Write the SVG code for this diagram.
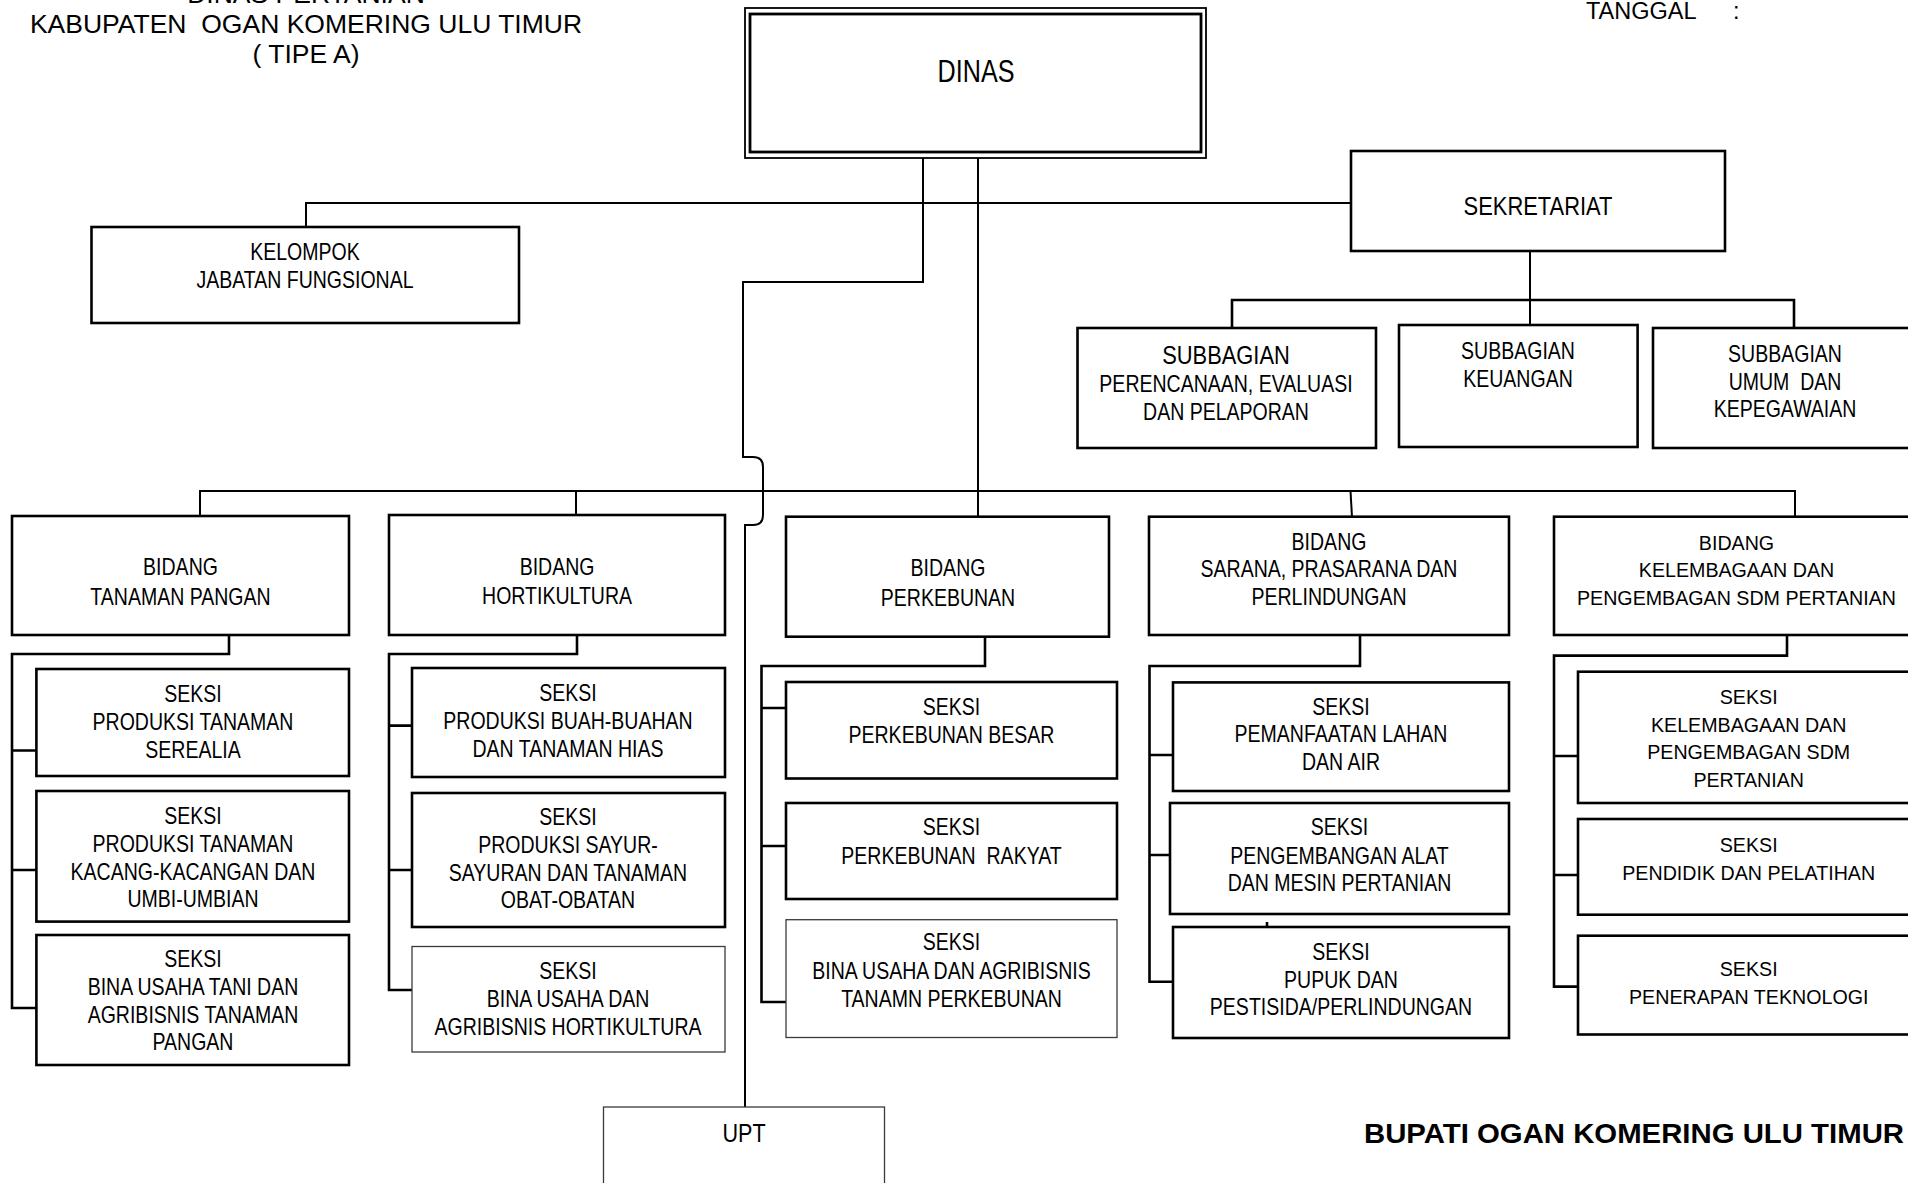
<svg xmlns="http://www.w3.org/2000/svg" width="1908" height="1183" viewBox="0 0 1908 1183">
  <style>
    .box { fill: #fff; stroke: #000; stroke-width: 2.6; }
    .thin { fill: #fff; stroke: #3a3a3a; stroke-width: 1.3; }
    .ln { fill: none; stroke: #000; stroke-width: 2; }
    .bus { fill: none; stroke: #000; stroke-width: 2.6; }
    text { font-family: "Liberation Sans", Arial, sans-serif; fill: #000; }
    .c { text-anchor: middle; }
    /* condensed lettering: scaled horizontally about each label's own centre */
    .n { font-size: 23.8px; transform: scaleX(0.82); transform-box: fill-box; transform-origin: center; }
    .r { font-size: 19.65px; }
    .hd { font-size: 26.5px; }
  </style>

  <!-- heading -->
  <g id="heading">
    <text class="c hd" x="306" y="3">DINAS PERTANIAN</text>
    <text class="c hd" x="306" y="33">KABUPATEN&#160; OGAN KOMERING ULU TIMUR</text>
    <text class="c hd" x="306" y="63">( TIPE A)</text>
  </g>
  <g id="tanggal">
    <text x="1586" y="19" font-size="23.5">TANGGAL</text>
    <text x="1733" y="19" font-size="23.5">:</text>
  </g>

  <!-- connectors -->
  <g id="connectors">
    <path class="ln" d="M306,227 V203 H1351"/>
    <path class="ln" d="M923,158 V282 H743 V457 H753 Q763,457 763,467 V515 Q763,525 753,525 H745 V1107"/>
    <path class="ln" d="M978,158 V517"/>
    <path class="ln" d="M200,516 V491 H1795 V517"/>
    <path class="ln" d="M576,491 V515"/>
    <path class="ln" d="M1350.5,491 L1352,517"/>
    <path class="ln" d="M1530,251 V325"/>
    <path class="bus" d="M1232,328 V300 H1794 V328"/>
    <!-- tanaman pangan -->
    <path class="bus" d="M229,635 V654 H12 V1008 H36 M12,750.5 H36 M12,870 H36"/>
    <!-- hortikultura -->
    <path class="bus" d="M577,635 V654 H389 V990 H412 M389,725.6 H412 M389,870 H412"/>
    <!-- perkebunan -->
    <path class="bus" d="M985,637 V666 H761.5 V1002 H786 M761.5,708 H786 M761.5,846 H786"/>
    <!-- sarana, prasarana dan perlindungan -->
    <path class="bus" d="M1360,635 V666 H1149.5 V981.7 H1173 M1149.5,755 H1173 M1149.5,855 H1170"/>
    <path class="bus" d="M1174,778 H1199 M1267,922 V927"/>
    <!-- kelembagaan -->
    <path class="bus" d="M1787,635 V655.6 H1554 V986.6 H1578 M1554,756 H1578 M1554,875 H1578"/>
  </g>

  <g id="dinas">
    <rect x="745" y="8" width="461" height="150" fill="#fff" stroke="#000" stroke-width="1.8"/>
    <rect x="750" y="14" width="451" height="138" fill="none" stroke="#000" stroke-width="2.8"/>
    <text class="c n" x="976" y="82" style="font-size:30.7px">DINAS</text>
  </g>

  <g id="kelompok-jabatan-fungsional">
    <rect class="box" x="91.5" y="227" width="427.5" height="96"/>
    <text class="c n" x="305" y="260">KELOMPOK<tspan x="305" y="288">JABATAN FUNGSIONAL</tspan></text>
  </g>

  <g id="sekretariat">
    <rect class="box" x="1351" y="151" width="374" height="100"/>
    <text class="c n" x="1538" y="215" style="font-size:26.7px">SEKRETARIAT</text>
  </g>

  <g id="subbagian-perencanaan">
    <rect class="box" x="1077.5" y="328" width="298.5" height="120"/>
    <text class="c n" x="1226" y="364" style="font-size:26.7px">SUBBAGIAN</text>
    <text class="c n" x="1226" y="392">PERENCANAAN, EVALUASI<tspan x="1226" y="420">DAN PELAPORAN</tspan></text>
  </g>

  <g id="subbagian-keuangan">
    <rect class="box" x="1399" y="325" width="238.6" height="122"/>
    <text class="c n" x="1518" y="359">SUBBAGIAN<tspan x="1518" y="387">KEUANGAN</tspan></text>
  </g>

  <g id="subbagian-umum">
    <rect class="box" x="1653" y="328" width="275" height="120"/>
    <text class="c n" x="1785" y="362">SUBBAGIAN<tspan x="1785" y="390">UMUM&#160; DAN</tspan><tspan x="1785" y="417">KEPEGAWAIAN</tspan></text>
  </g>

  <!-- bidang -->
  <g id="bidang-tanaman-pangan">
    <rect class="box" x="12" y="516" width="337" height="119"/>
    <text class="c n" x="180.5" y="575">BIDANG<tspan x="180.5" y="605">TANAMAN PANGAN</tspan></text>
  </g>
  <g id="bidang-hortikultura">
    <rect class="box" x="389" y="515" width="336" height="120"/>
    <text class="c n" x="557" y="575">BIDANG<tspan x="557" y="604">HORTIKULTURA</tspan></text>
  </g>
  <g id="bidang-perkebunan">
    <rect class="box" x="786" y="516.7" width="323" height="120"/>
    <text class="c n" x="948" y="576">BIDANG<tspan x="948" y="606">PERKEBUNAN</tspan></text>
  </g>
  <g id="bidang-sarana">
    <rect class="box" x="1149" y="516.7" width="360" height="118.3"/>
    <text class="c n" x="1329" y="550">BIDANG<tspan x="1329" y="577">SARANA, PRASARANA DAN</tspan><tspan x="1329" y="605">PERLINDUNGAN</tspan></text>
  </g>
  <g id="bidang-kelembagaan">
    <rect class="box" x="1554" y="516.7" width="370" height="118.3"/>
    <text class="c r" x="1736.5" y="550">BIDANG<tspan x="1736.5" y="577">KELEMBAGAAN DAN</tspan><tspan x="1736.5" y="605">PENGEMBAGAN SDM PERTANIAN</tspan></text>
  </g>

  <!-- seksi: tanaman pangan -->
  <g id="seksi-serealia">
    <rect class="box" x="36.4" y="669" width="312.6" height="107"/>
    <text class="c n" x="193" y="702">SEKSI<tspan x="193" y="730">PRODUKSI TANAMAN</tspan><tspan x="193" y="758">SEREALIA</tspan></text>
  </g>
  <g id="seksi-kacang">
    <rect class="box" x="36.4" y="791" width="312.6" height="130.6"/>
    <text class="c n" x="193" y="824">SEKSI<tspan x="193" y="852">PRODUKSI TANAMAN</tspan><tspan x="193" y="880">KACANG-KACANGAN DAN</tspan><tspan x="193" y="907">UMBI-UMBIAN</tspan></text>
  </g>
  <g id="seksi-bina-tani">
    <rect class="box" x="36.4" y="935" width="312.6" height="130"/>
    <text class="c n" x="193" y="967">SEKSI<tspan x="193" y="995">BINA USAHA TANI DAN</tspan><tspan x="193" y="1023">AGRIBISNIS TANAMAN</tspan><tspan x="193" y="1050">PANGAN</tspan></text>
  </g>

  <!-- seksi: hortikultura -->
  <g id="seksi-buah">
    <rect class="box" x="412" y="668" width="313" height="109"/>
    <text class="c n" x="568" y="701">SEKSI<tspan x="568" y="729">PRODUKSI BUAH-BUAHAN</tspan><tspan x="568" y="757">DAN TANAMAN HIAS</tspan></text>
  </g>
  <g id="seksi-sayur">
    <rect class="box" x="412" y="793" width="313" height="134"/>
    <text class="c n" x="568" y="825">SEKSI<tspan x="568" y="853">PRODUKSI SAYUR-</tspan><tspan x="568" y="881">SAYURAN DAN TANAMAN</tspan><tspan x="568" y="908">OBAT-OBATAN</tspan></text>
  </g>
  <g id="seksi-bina-hortikultura">
    <rect class="thin" x="412" y="946.5" width="313" height="105.5"/>
    <text class="c n" x="568" y="979">SEKSI<tspan x="568" y="1007">BINA USAHA DAN</tspan><tspan x="568" y="1035">AGRIBISNIS HORTIKULTURA</tspan></text>
  </g>

  <!-- seksi: perkebunan -->
  <g id="seksi-perkebunan-besar">
    <rect class="box" x="786" y="682" width="331" height="96.5"/>
    <text class="c n" x="951.5" y="715">SEKSI<tspan x="951.5" y="743">PERKEBUNAN BESAR</tspan></text>
  </g>
  <g id="seksi-perkebunan-rakyat">
    <rect class="box" x="786" y="803" width="331" height="96"/>
    <text class="c n" x="951.5" y="835">SEKSI<tspan x="951.5" y="864">PERKEBUNAN&#160; RAKYAT</tspan></text>
  </g>
  <g id="seksi-bina-perkebunan">
    <rect class="thin" x="786" y="919.7" width="331" height="117.8"/>
    <text class="c n" x="951.5" y="950">SEKSI<tspan x="951.5" y="979">BINA USAHA DAN AGRIBISNIS</tspan><tspan x="951.5" y="1007">TANAMN PERKEBUNAN</tspan></text>
  </g>

  <!-- seksi: sarana, prasarana dan perlindungan -->
  <g id="seksi-lahan-air">
    <rect class="box" x="1173" y="682.4" width="336" height="108.6"/>
    <text class="c n" x="1341" y="715">SEKSI<tspan x="1341" y="742.5">PEMANFAATAN LAHAN</tspan><tspan x="1341" y="770">DAN AIR</tspan></text>
  </g>
  <g id="seksi-alat-mesin">
    <rect class="box" x="1170" y="803" width="339" height="111"/>
    <text class="c n" x="1339.5" y="835.5">SEKSI<tspan x="1339.5" y="864">PENGEMBANGAN ALAT</tspan><tspan x="1339.5" y="891">DAN MESIN PERTANIAN</tspan></text>
  </g>
  <g id="seksi-pupuk">
    <rect class="box" x="1173" y="927" width="336" height="111"/>
    <text class="c n" x="1341" y="960">SEKSI<tspan x="1341" y="988">PUPUK DAN</tspan><tspan x="1341" y="1015">PESTISIDA/PERLINDUNGAN</tspan></text>
  </g>

  <!-- seksi: kelembagaan -->
  <g id="seksi-kelembagaan">
    <rect class="box" x="1578" y="671.7" width="345" height="131.3"/>
    <text class="c r" x="1748.7" y="704">SEKSI<tspan x="1748.7" y="732">KELEMBAGAAN DAN</tspan><tspan x="1748.7" y="759">PENGEMBAGAN SDM</tspan><tspan x="1748.7" y="787">PERTANIAN</tspan></text>
  </g>
  <g id="seksi-pendidik">
    <rect class="box" x="1578" y="819" width="345" height="95.7"/>
    <text class="c r" x="1748.7" y="852">SEKSI<tspan x="1748.7" y="879.5">PENDIDIK DAN PELATIHAN</tspan></text>
  </g>
  <g id="seksi-penerapan">
    <rect class="box" x="1578" y="935.7" width="345" height="98.8"/>
    <text class="c r" x="1748.7" y="976">SEKSI<tspan x="1748.7" y="1004">PENERAPAN TEKNOLOGI</tspan></text>
  </g>

  <g id="upt">
    <rect class="thin" x="603.5" y="1107" width="281" height="100"/>
    <text class="c n" x="744" y="1142" style="font-size:26.3px">UPT</text>
  </g>

  <g id="bupati">
    <text x="1364" y="1143" font-size="28.5" font-weight="bold" textLength="540" lengthAdjust="spacingAndGlyphs">BUPATI OGAN KOMERING ULU TIMUR</text>
  </g>
</svg>
